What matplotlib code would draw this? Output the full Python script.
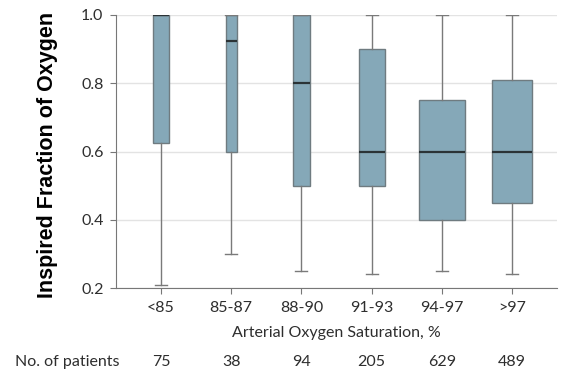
import numpy as np
import matplotlib
matplotlib.use("Agg")
import matplotlib.pyplot as plt

# data
categories = ["<85", "85-87", "88-90", "91-93", "94-97", ">97"]
patients = [75, 38, 94, 205, 629, 489]
whisker_low = [0.21, 0.30, 0.25, 0.24, 0.25, 0.24]
q1 = [0.625, 0.60, 0.50, 0.50, 0.40, 0.45]
median = [1.0, 0.925, 0.80, 0.60, 0.60, 0.60]
q3 = [1.0, 1.0, 1.0, 0.90, 0.75, 0.81]
whisker_high = [1.0, 1.0, 1.0, 1.0, 1.0, 1.0]

box_color = "#85a8b8"
edge = "#6f7b80"
txt = "#2e2e2e"
font = "Lato"
fs = 11.5

stats = []
for i, c in enumerate(categories):
    stats.append(dict(label=c, whislo=whisker_low[i], q1=q1[i], med=median[i],
                      q3=q3[i], whishi=whisker_high[i], fliers=[]))

# box width grows with sqrt of sample size
widths = [0.026 * np.sqrt(n) for n in patients]

fig = plt.figure(figsize=(5.61, 3.71), dpi=100)
ax = fig.add_axes([116 / 561, 1 - 288 / 371, 441 / 561, 273 / 371])

ax.bxp(stats, positions=range(len(categories)), widths=widths, patch_artist=True,
       showfliers=False, capwidths=0.17,
       boxprops=dict(facecolor=box_color, edgecolor=edge, linewidth=1),
       medianprops=dict(color="#2b3336", linewidth=1.6),
       whiskerprops=dict(color="#7a7a7a", linewidth=1),
       capprops=dict(color="#7a7a7a", linewidth=1))

ax.set_xlim(-0.64, 5.64)
ax.set_ylim(0.2, 1.0)
ax.set_yticks([0.2, 0.4, 0.6, 0.8, 1.0])
ax.set_yticklabels(["0.2", "0.4", "0.6", "0.8", "1.0"], fontfamily=font, fontsize=fs, color=txt)
ax.set_xticks(range(len(categories)))
ax.set_xticklabels(categories, fontfamily=font, fontsize=fs, color=txt)
ax.grid(axis="y", color="#e3e3e3", linewidth=1)
ax.set_axisbelow(True)
for s in ["top", "right"]:
    ax.spines[s].set_visible(False)
for s in ["left", "bottom"]:
    ax.spines[s].set_color("#777777")
ax.tick_params(colors="#777777", labelcolor=txt, length=4, pad=5)

ax.set_xlabel("Arterial Oxygen Saturation, %", fontfamily=font, fontsize=fs, color=txt, labelpad=8)
fig.text(47 / 561, 1 - 155 / 371, "Inspired Fraction of Oxygen", rotation=90,
         ha="center", va="center", fontfamily="Liberation Sans", fontweight="bold", fontsize=15.5)

ytxt = 1 - 362 / 371
fig.text(15 / 561, ytxt, "No. of patients", ha="left", va="center", fontfamily=font, fontsize=fs, color=txt)
for i, n in enumerate(patients):
    xf = ax.transData.transform((i, 0))[0] / fig.bbox.width
    fig.text(xf, ytxt, str(n), ha="center", va="center", fontfamily=font, fontsize=fs, color=txt)

fig.savefig("out.png", dpi=100)
